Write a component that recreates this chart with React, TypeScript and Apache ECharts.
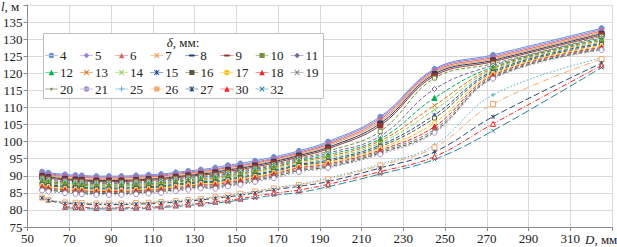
import React, { useEffect, useRef } from 'react';
import * as echarts from 'echarts';

// Outer pipe diameter D, mm
const diameters = [57, 60, 68, 73, 76, 83, 89, 95, 102, 108, 114, 121, 127, 133, 140, 146, 152, 159, 168, 180, 194, 219, 245, 273, 325];

// Wall thickness δ, mm (series names)
const thicknesses = ['4', '5', '6', '7', '8', '9', '10', '11', '12', '13', '14', '15', '16', '17', '18', '19', '20', '21', '25', '26', '27', '30', '32'];

// l, m for each wall thickness
const l4 = [91.2, 90.9, 90.4, 90.2, 90.1, 89.9, 89.9, 89.9, 90.1, 90.3, 90.5, 91.0, 91.4, 91.8, 92.4, 93.1, 93.6, 94.4, 95.5, 97.3, 100.0, 107.3, 121.3, 125.4, 133.2];
const l5 = [90.9, 90.6, 90.1, 89.9, 89.8, 89.6, 89.6, 89.6, 89.8, 90.0, 90.2, 90.7, 91.1, 91.5, 92.0, 92.7, 93.2, 94.0, 95.1, 96.9, 99.6, 106.9, 121.0, 125.0, 132.8];
const l6 = [90.6, 90.3, 89.8, 89.6, 89.5, 89.3, 89.3, 89.3, 89.5, 89.7, 89.9, 90.4, 90.8, 91.2, 91.7, 92.4, 92.9, 93.7, 94.8, 96.6, 99.2, 106.4, 120.6, 124.6, 132.4];
const l7 = [90.2, 89.9, 89.4, 89.2, 89.1, 88.9, 88.9, 88.9, 89.1, 89.3, 89.5, 90.0, 90.4, 90.8, 91.3, 92.0, 92.5, 93.3, 94.4, 96.2, 98.8, 105.9, 120.2, 124.2, 132.0];
const l8 = [89.9, 89.6, 89.1, 88.9, 88.8, 88.6, 88.6, 88.6, 88.8, 89.0, 89.2, 89.7, 90.1, 90.5, 91.0, 91.7, 92.2, 93.0, 94.1, 95.9, 98.3, 105.3, 119.8, 123.8, 131.6];
const l9 = [89.6, 89.3, 88.8, 88.6, 88.5, 88.3, 88.3, 88.3, 88.5, 88.7, 88.9, 89.4, 89.8, 90.2, 90.6, 91.3, 91.8, 92.6, 93.7, 95.5, 97.9, 104.7, 119.3, 123.4, 131.2];
const l10 = [89.3, 89.0, 88.5, 88.3, 88.2, 88.0, 88.0, 88.0, 88.2, 88.4, 88.6, 89.1, 89.5, 89.9, 90.2, 90.9, 91.4, 92.2, 93.3, 95.1, 97.2, 103.0, 118.6, 122.8, 130.8];
const l11 = [89.0, 88.7, 88.2, 88.0, 87.9, 87.7, 87.7, 87.7, 87.9, 88.1, 88.3, 88.8, 89.2, 89.6, 89.9, 90.6, 91.1, 91.9, 93.0, 94.8, 96.6, 101.6, 115.4, 122.3, 130.4];
const l12 = [88.6, 88.3, 87.8, 87.6, 87.5, 87.3, 87.3, 87.3, 87.5, 87.7, 87.9, 88.4, 88.8, 89.2, 89.5, 90.2, 90.7, 91.5, 92.6, 94.4, 96.1, 100.8, 112.8, 121.8, 130.0];
const l13 = [88.3, 88.0, 87.5, 87.3, 87.2, 87.0, 87.0, 87.0, 87.2, 87.4, 87.6, 88.1, 88.5, 88.9, 89.2, 89.9, 90.4, 91.2, 92.3, 94.1, 95.6, 100.2, 110.6, 121.4, 129.6];
const l14 = [88.0, 87.7, 87.2, 87.0, 86.9, 86.7, 86.7, 86.7, 86.9, 87.1, 87.3, 87.8, 88.2, 88.6, 88.8, 89.5, 90.0, 90.8, 91.9, 93.7, 95.1, 99.6, 109.3, 121.0, 129.2];
const l15 = [87.7, 87.4, 86.9, 86.7, 86.6, 86.4, 86.4, 86.4, 86.6, 86.8, 87.0, 87.5, 87.9, 88.3, 88.4, 89.1, 89.6, 90.4, 91.5, 93.3, 94.6, 99.0, 107.8, 120.6, 128.8];
const l16 = [87.4, 87.1, 86.6, 86.4, 86.3, 86.1, 86.1, 86.1, 86.3, 86.5, 86.7, 87.2, 87.6, 88.0, 88.1, 88.8, 89.3, 90.1, 91.2, 93.0, 94.2, 98.5, 106.9, 120.2, 128.4];
const l17 = [87.0, 86.7, 86.2, 86.0, 85.9, 85.7, 85.7, 85.7, 85.9, 86.1, 86.3, 86.8, 87.2, 87.6, 87.7, 88.4, 88.9, 89.7, 90.8, 92.6, 93.8, 98.0, 105.5, 119.8, 128.0];
const l18 = [86.7, 86.4, 85.9, 85.7, 85.6, 85.4, 85.4, 85.4, 85.6, 85.8, 86.0, 86.5, 86.9, 87.3, 87.4, 88.1, 88.6, 89.4, 90.5, 92.3, 93.4, 97.5, 104.4, 119.4, 127.6];
const l19 = [86.4, 86.1, 85.6, 85.4, 85.3, 85.1, 85.1, 85.1, 85.3, 85.5, 85.7, 86.2, 86.6, 87.0, 87.0, 87.7, 88.2, 89.0, 90.1, 91.9, 93.0, 97.1, 103.6, 119.0, 127.3];
const l20 = [86.1, 85.8, 85.3, 85.1, 85.0, 84.8, 84.8, 84.8, 85.0, 85.2, 85.4, 85.9, 86.3, 86.7, 86.6, 87.3, 87.8, 88.6, 89.7, 91.5, 92.6, 96.7, 103.0, 118.7, 127.0];
const l21 = [85.7, 85.4, 84.9, 84.7, 84.6, 84.4, 84.4, 84.4, 84.6, 84.8, 85.0, 85.5, 85.9, 86.3, 86.2, 86.9, 87.4, 88.2, 89.3, 91.1, 92.3, 96.3, 102.6, 118.4, 126.8];
const l25 = [83.7, 83.0, 82.3, 82.2, 82.1, 82.0, 82.0, 82.0, 82.1, 82.2, 82.4, 82.7, 83.0, 83.3, 83.8, 84.3, 84.8, 85.5, 86.5, 87.5, 89.3, 93.4, 99.0, 113.7, 124.5];
const l26 = [83.6, 82.9, 82.2, 82.1, 82.0, 81.9, 81.9, 81.9, 82.0, 82.1, 82.3, 82.6, 82.9, 83.2, 83.7, 84.2, 84.7, 85.4, 86.3, 87.3, 89.0, 93.0, 98.3, 111.0, 124.2];
const l27 = [83.5, 82.8, 81.9, 81.8, 81.7, 81.6, 81.6, 81.6, 81.7, 81.8, 82.0, 82.3, 82.6, 82.9, 83.4, 83.8, 84.3, 85.0, 85.9, 86.9, 88.3, 92.3, 97.0, 107.3, 123.0];
const l30 = [null, null, 80.9, 80.8, 80.7, 80.6, 80.6, 80.6, 80.7, 80.8, 81.0, 81.3, 81.6, 81.9, 82.4, 82.8, 83.3, 84.0, 84.9, 85.8, 87.5, 91.2, 95.6, 105.2, 122.3];
const l32 = [null, null, 80.6, 80.5, 80.4, 80.3, 80.3, 80.3, 80.4, 80.5, 80.7, 81.0, 81.3, 81.6, 82.0, 82.4, 82.9, 83.5, 84.3, 85.1, 86.8, 90.5, 94.8, 103.2, 121.7];

const seriesValues = [l4, l5, l6, l7, l8, l9, l10, l11, l12, l13, l14, l15, l16, l17, l18, l19, l20, l21, l25, l26, l27, l30, l32];

// Axis ranges and ticks
const xMin = 50, xMax = 330, xStep = 20;
const yMin = 75, yMax = 140, yStep = 5;

// Legend layout (rows of names)
const legendRows = [
  ['4', '5', '6', '7', '8', '9', '10', '11'],
  ['12', '13', '14', '15', '16', '17', '18', '19'],
  ['20', '21', '25', '26', '27', '30', '32'],
];

const FONT = '"Liberation Serif", "Times New Roman", serif';

// plot marker symbols
const X_SYM = 'path://M0,0L10,10M10,0L0,10';
const STAR_SYM = 'path://M0,0L10,10M10,0L0,10M5,-1L5,11';
const PLUS_SYM = 'path://M5,0L5,10M0,5L10,5';
const DASH_SYM = 'path://M0,4L10,4L10,6L0,6Z';

// legend icons: short line + small marker (box 14 x 6)
const LN = 'M0,2.6H14V3.4H0Z';
const ICON: Record<string, string> = {
  circle: 'M4,3A3,3 0 1,0 10,3A3,3 0 1,0 4,3Z',
  diamond: 'M7,0L10,3L7,6L4,3Z',
  triangle: 'M7,0L10,6L4,6Z',
  rect: 'M4.2,0.2H9.8V5.8H4.2Z',
  x: 'M4.2,0.7L4.9,0L7,2.3L9.1,0L9.8,0.7L7.7,3L9.8,5.3L9.1,6L7,3.7L4.9,6L4.2,5.3L6.3,3Z',
  star: 'M4.2,0.7L4.9,0L7,2.3L9.1,0L9.8,0.7L7.7,3L9.8,5.3L9.1,6L7,3.7L4.9,6L4.2,5.3L6.3,3Z M6.6,0H7.4V6H6.6Z',
  plus: 'M6.5,0H7.5V6H6.5Z M4,2.5H10V3.5H4Z',
  dash: 'M4,1.8H10V4.2H4Z M0,2.9H0.01V3.1H0Z M0,0H0.01V0.01H0Z M14,6H13.99V5.99H14Z',
  dot: 'M5.5,3A1.5,1.5 0 1,0 8.5,3A1.5,1.5 0 1,0 5.5,3Z M0,0H0.01V0.01H0Z M14,6H13.99V5.99H14Z',
};

type Sty = { color: string; symbol: string; size: number; open?: boolean; line: any; icon: string };
const styles: Sty[] = [
  { color: '#6b8fd6', symbol: 'circle', size: 5, line: 'solid', icon: 'circle' },
  { color: '#9a7fd1', symbol: 'diamond', size: 5, line: 'solid', icon: 'diamond' },
  { color: '#e06666', symbol: 'triangle', size: 5, line: 'solid', icon: 'triangle' },
  { color: '#f7964a', symbol: X_SYM, size: 4, line: 'solid', icon: 'x' },
  { color: '#1f3d6b', symbol: DASH_SYM, size: 5, line: 'solid', icon: 'dash' },
  { color: '#943634', symbol: DASH_SYM, size: 5, line: 'solid', icon: 'dash' },
  { color: '#76923c', symbol: 'rect', size: 4, open: true, line: [4, 2], icon: 'rect' },
  { color: '#8064a2', symbol: 'diamond', size: 5, open: true, line: [4, 2], icon: 'diamond' },
  { color: '#00b050', symbol: 'triangle', size: 5, line: [4, 2], icon: 'triangle' },
  { color: '#e46c0a', symbol: X_SYM, size: 4, line: [4, 2], icon: 'x' },
  { color: '#92d050', symbol: X_SYM, size: 4, line: [4, 2], icon: 'x' },
  { color: '#1f4e9a', symbol: STAR_SYM, size: 4, line: [4, 2], icon: 'star' },
  { color: '#5a5a3c', symbol: 'rect', size: 4, open: true, line: [4, 2], icon: 'rect' },
  { color: '#ffc000', symbol: 'circle', size: 4, open: true, line: [4, 2], icon: 'circle' },
  { color: '#e8232a', symbol: 'triangle', size: 5, line: [4, 2], icon: 'triangle' },
  { color: '#7f7f7f', symbol: X_SYM, size: 4, line: [4, 2], icon: 'x' },
  { color: '#4f6228', symbol: 'circle', size: 3, line: [4, 2], icon: 'dot' },
  { color: '#a08cc8', symbol: 'circle', size: 5, open: true, line: [2, 2], icon: 'circle' },
  { color: '#4bacc6', symbol: PLUS_SYM, size: 4, line: [1.5, 2], icon: 'plus' },
  { color: '#f9a86b', symbol: 'rect', size: 5, open: true, line: [6, 2, 1, 2], icon: 'rect' },
  { color: '#2a4a74', symbol: STAR_SYM, size: 4, line: [6, 3], icon: 'star' },
  { color: '#ff2020', symbol: 'triangle', size: 5, open: true, line: [5, 2, 1, 2], icon: 'triangle' },
  { color: '#31859c', symbol: X_SYM, size: 4, line: [8, 3], icon: 'x' },
];

export default function App() {
  const ref = useRef<HTMLDivElement>(null);
  useEffect(() => {
    if (!ref.current) return;
    const chart = echarts.init(ref.current, undefined, { renderer: 'svg' });

    const series = thicknesses.map((name, k) => {
      const s = styles[k];
      const isPath = s.symbol.startsWith('path://') && s.symbol !== DASH_SYM;
      return {
        type: 'line',
        name,
        data: diameters.map((d, i) => [d, seriesValues[k][i]]),
        smooth: 0.4,
        symbol: s.symbol,
        symbolSize: s.size,
        showSymbol: true,
        lineStyle: { color: s.color, width: 1, type: s.line },
        itemStyle: {
          color: isPath || s.open ? '#ffffff' : s.color,
          borderColor: s.color,
          borderWidth: 1,
        },
        emphasis: { disabled: true },
        silent: true,
      };
    });

    const rowCenters = [56, 73, 89.5];
    const legends = legendRows.flatMap((row, r) =>
      row.map((name, c) => {
        const s = styles[thicknesses.indexOf(name)];
        return {
          data: [
            {
              name,
              icon: 'path://' + LN + ' ' + ICON[s.icon],
              itemStyle: { color: s.color, borderWidth: 0 },
            },
          ],
          left: 45 + c * 35.1,
          top: rowCenters[r] - 7,
          padding: 0,
          itemWidth: 13,
          itemHeight: 5.5,
          itemGap: 0,
          selectedMode: false,
          textStyle: { fontFamily: FONT, fontSize: 13, color: '#222', padding: [0, 0, 0, -3] },
          z: 6,
        };
      })
    );

    chart.setOption({
      animation: false,
      backgroundColor: '#ffffff',
      grid: { left: 27, right: 5, top: 5, bottom: 20, containLabel: false },
      xAxis: {
        type: 'value',
        min: xMin,
        max: xMax,
        interval: xStep,
        axisLine: { show: true, lineStyle: { color: '#8c8c8c', width: 1 } },
        axisTick: { show: true, length: 4, lineStyle: { color: '#8c8c8c' } },
        axisLabel: {
          margin: 5,
          fontFamily: FONT,
          fontSize: 13,
          color: '#222',
          formatter: (v: number) => (v === xMax ? '' : String(v)),
        },
        splitLine: { show: true, lineStyle: { color: '#d9d9d9', width: 1 } },
      },
      yAxis: {
        type: 'value',
        min: yMin,
        max: yMax,
        interval: yStep,
        axisLine: { show: true, lineStyle: { color: '#8c8c8c', width: 1 } },
        axisTick: { show: true, length: 4, lineStyle: { color: '#8c8c8c' } },
        axisLabel: {
          margin: 5,
          fontFamily: FONT,
          fontSize: 13,
          color: '#222',
          formatter: (v: number) => (v === yMax ? '' : String(v)),
        },
        splitLine: { show: true, lineStyle: { color: '#d9d9d9', width: 1 } },
      },
      legend: legends,
      graphic: [
        {
          type: 'rect',
          shape: { x: 43.5, y: 33.5, width: 280, height: 65 },
          style: { fill: '#ffffff', stroke: '#bfbfbf', lineWidth: 1 },
          z: 3,
        },
        {
          type: 'text',
          x: 183,
          y: 42,
          z: 6,
          style: {
            text: '{i|δ}, мм:',
            rich: { i: { fontStyle: 'italic', fontFamily: FONT, fontSize: 13, fill: '#222' } },
            fontFamily: FONT,
            fontSize: 13,
            fill: '#222',
            align: 'center',
            verticalAlign: 'middle',
          },
        },
        {
          type: 'text',
          x: 1,
          y: 6,
          z: 6,
          style: {
            text: '{i|l}, м',
            rich: { i: { fontStyle: 'italic', fontFamily: FONT, fontSize: 13, fill: '#222' } },
            fontFamily: FONT,
            fontSize: 13,
            fill: '#222',
            align: 'left',
            verticalAlign: 'middle',
          },
        },
        {
          type: 'text',
          x: 585,
          y: 239,
          z: 6,
          style: {
            text: '{i|D}, мм',
            rich: { i: { fontStyle: 'italic', fontFamily: FONT, fontSize: 13, fill: '#222' } },
            fontFamily: FONT,
            fontSize: 13,
            fill: '#222',
            align: 'left',
            verticalAlign: 'middle',
          },
        },
      ],
      series,
    });

    return () => chart.dispose();
  }, []);

  return <div ref={ref} style={{ position: 'absolute', left: 0, top: 0, width: 617, height: 247 }} />;
}
